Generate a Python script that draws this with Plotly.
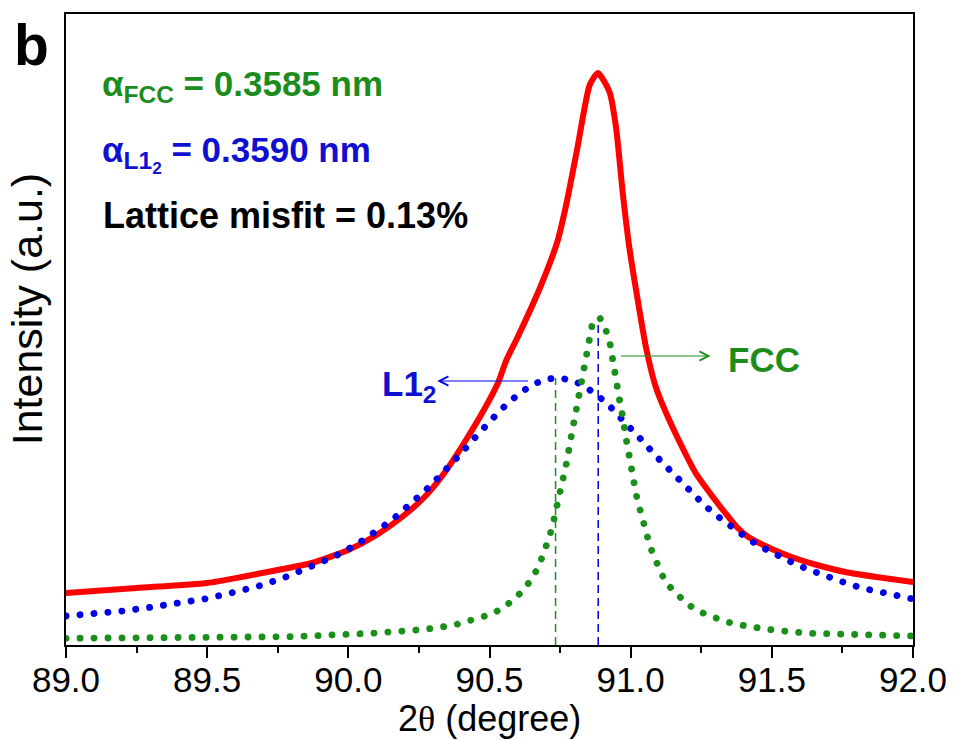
import plotly.graph_objects as go

# ---------------- data ----------------
# measured pattern (red solid)
red_2theta = [89.00, 89.25, 89.50, 89.64, 89.75, 89.87, 90.00, 90.10, 90.19, 90.27,
              90.34, 90.41, 90.48, 90.53, 90.56, 90.60, 90.68, 90.74, 90.77, 90.81,
              90.855, 90.884, 90.925, 90.948, 90.972, 90.995, 91.025, 91.054, 91.089,
              91.148, 91.23, 91.294, 91.335, 91.376, 91.417, 91.50, 91.58, 91.66,
              91.76, 91.87, 92.00]
red_int = [52, 57, 62, 69, 75, 82, 95, 110, 128, 148,
           172, 202, 235, 262, 285, 308, 358, 403, 438, 495,
           560, 572, 553, 518, 452, 398, 345, 298, 258,
           218, 172, 147, 132, 118, 108, 96, 87, 80,
           73, 68, 63]

# L1_2 fitted peak (blue dotted)
l12_2theta = [89.00, 89.10, 89.20, 89.29, 89.39, 89.49, 89.58, 89.68, 89.77, 89.86,
              89.95, 90.036, 90.079, 90.116, 90.155, 90.192, 90.231, 90.266, 90.301,
              90.336, 90.37, 90.403, 90.435, 90.468, 90.50, 90.536, 90.571, 90.611,
              90.655, 90.702, 90.749, 90.798, 90.84, 90.878, 90.916, 90.948, 90.984,
              91.019, 91.052, 91.086, 91.12, 91.152, 91.186, 91.221, 91.257, 91.294,
              91.333, 91.374, 91.415, 91.456, 91.50, 91.544, 91.59, 91.634, 91.681,
              91.729, 91.775, 91.823, 91.87, 91.919, 91.968, 92.00]
l12_int = [29, 31, 34, 37.3, 41.7, 46, 51.7, 58.7, 67, 77,
           88.3, 101.7, 109.3, 117.3, 125, 134, 143, 152.7, 162.3,
           172.3, 182.7, 192.7, 203.3, 214, 224, 234, 243.3, 252.7,
           260.7, 266, 267, 264.3, 258.3, 250.3, 242, 232, 222,
           211, 201, 190, 180, 170, 160, 150.7, 141, 131.7,
           123, 114.3, 106.3, 99, 92.3, 86, 80, 75, 69.7,
           65, 60.7, 56.7, 53.7, 50, 47.7, 46]

# FCC fitted peak (green dotted)
fcc_2theta = [89.00, 89.40, 89.80, 90.08, 90.175, 90.274, 90.372, 90.466, 90.509,
              90.55, 90.587, 90.62, 90.65, 90.675, 90.694, 90.709, 90.723, 90.734,
              90.747, 90.759, 90.768, 90.776, 90.784, 90.793, 90.801, 90.809, 90.817,
              90.825, 90.834, 90.843, 90.852, 90.864, 90.89, 90.913, 90.927, 90.934,
              90.944, 90.951, 90.96, 90.969, 90.979, 90.984, 90.993, 91.001, 91.009,
              91.019, 91.031, 91.042, 91.054, 91.069, 91.087, 91.107, 91.124, 91.162,
              91.197, 91.241, 91.289, 91.336, 91.385, 91.431, 91.482, 91.53, 91.579,
              91.628, 91.727, 91.825, 91.968, 92.00]
fcc_int = [6.7, 7, 8.3, 11.7, 13, 15.7, 19.7, 26.3, 31,
           37.7, 45.7, 55, 66.3, 79, 92.3, 105.7, 119, 132.3,
           145.7, 159, 173, 186.3, 200.3, 213.7, 227.7, 241, 255,
           268.3, 281.7, 295, 309, 320.7, 327.7, 314.3, 301, 287.7,
           273.3, 260, 246, 232.7, 219.3, 205.7, 192.3, 178.3, 165,
           151, 137.7, 124.3, 111, 98.3, 85.7, 73.3, 62.3, 51.7,
           41.7, 33.7, 28.3, 23.3, 20.3, 17.7, 15.7, 14.3, 13,
           11.7, 11, 10.3, 9.3, 9]

# peak markers (dashed verticals): position, height
l12_peak = [90.734, 267]
fcc_peak = [90.885, 322]

x_ticks = [89.0, 89.5, 90.0, 90.5, 91.0, 91.5, 92.0]
x_tick_labels = ["89.0", "89.5", "90.0", "90.5", "91.0", "91.5", "92.0"]
x_minor_ticks = [89.25, 89.75, 90.25, 90.75, 91.25, 91.75]

# ---------------- styling ----------------
RED = "#ff0000"
BLUE_DOT = "#0000e6"
GREEN_DOT = "#1a8f1a"
BLUE_TXT = "#1010d0"
GREEN_TXT = "#1c8c1c"
FONT = "Arial, Liberation Sans, sans-serif"

W, H = 959, 740
L, R, T, B = 66, 40, 14, 95
PW, PH = W - L - R, H - T - B


def px(xp):
    return (xp - L) / PW


def py(yp):
    return (H - B - yp) / PH


fig = go.Figure()
fig.add_trace(go.Scatter(x=red_2theta, y=red_int, mode="lines",
                         line=dict(color=RED, width=6, shape="spline", smoothing=0.6),
                         hoverinfo="skip"))
fig.add_trace(go.Scatter(x=l12_2theta, y=l12_int, mode="lines",
                         line=dict(color=BLUE_DOT, width=6.8, dash="0.1px,13.9px"),
                         hoverinfo="skip"))
fig.add_trace(go.Scatter(x=fcc_2theta, y=fcc_int, mode="lines",
                         line=dict(color=GREEN_DOT, width=6.8, dash="0.1px,13.9px"),
                         hoverinfo="skip"))

fig.add_shape(type="line", x0=l12_peak[0], x1=l12_peak[0], y0=0, y1=l12_peak[1],
              xref="x", yref="y", layer="below",
              line=dict(color=GREEN_DOT, width=1.5, dash="8px,5px"))
fig.add_shape(type="line", x0=fcc_peak[0], x1=fcc_peak[0], y0=0, y1=fcc_peak[1],
              xref="x", yref="y", layer="below",
              line=dict(color=BLUE_DOT, width=1.5, dash="8px,5px"))

ann = []
# panel letter
ann.append(dict(text="<b>b</b>", x=px(12), y=py(45), xref="paper", yref="paper",
                xanchor="left", yanchor="middle", showarrow=False,
                font=dict(family=FONT, size=57, color="black")))
ann.append(dict(text="<b>α<sub>FCC</sub> = 0.3585 nm</b>", x=px(100), y=py(86),
                xref="paper", yref="paper", xanchor="left", yanchor="middle",
                showarrow=False, font=dict(family=FONT, size=35, color=GREEN_TXT)))
ann.append(dict(text="<b>α<sub>L1<sub>2</sub></sub> = 0.3590 nm</b>", x=px(100), y=py(154),
                xref="paper", yref="paper", xanchor="left", yanchor="middle",
                showarrow=False, font=dict(family=FONT, size=35, color=BLUE_TXT)))
ann.append(dict(text="<b>Lattice misfit = 0.13%</b>", x=px(101), y=py(215),
                xref="paper", yref="paper", xanchor="left", yanchor="middle",
                showarrow=False, font=dict(family=FONT, size=36, color="black")))
# phase labels
ann.append(dict(text="<b>L1<sub>2</sub></b>", x=px(442), y=py(386),
                xref="paper", yref="paper", xanchor="right", yanchor="middle",
                showarrow=False, font=dict(family=FONT, size=35, color=BLUE_TXT)))
ann.append(dict(text="<b>FCC</b>", x=px(731), y=py(359),
                xref="paper", yref="paper", xanchor="left", yanchor="middle",
                showarrow=False, font=dict(family=FONT, size=35, color=GREEN_TXT)))
# arrows
ann.append(dict(text="", x=90.315, y=264, ax=90.642, ay=264, xref="x", yref="y",
                axref="x", ayref="y", showarrow=True, arrowhead=5, arrowsize=1.5,
                arrowwidth=1.2, arrowcolor=BLUE_DOT))
ann.append(dict(text="", x=91.283, y=289, ax=90.96, ay=289, xref="x", yref="y",
                axref="x", ayref="y", showarrow=True, arrowhead=5, arrowsize=1.5,
                arrowwidth=1.2, arrowcolor=GREEN_DOT))
# y title
ann.append(dict(text="Intensity (a.u.)", x=px(27), y=py(309), xref="paper", yref="paper",
                xanchor="center", yanchor="middle", textangle=-90, showarrow=False,
                font=dict(family=FONT, size=43, color="black")))
# x title
ann.append(dict(text="2<span style='font-family:Liberation Serif'>θ</span> (degree)",
                x=px(492), y=py(718), xref="paper", yref="paper",
                xanchor="center", yanchor="middle", showarrow=False,
                font=dict(family=FONT, size=36, color="black")))

fig.update_layout(
    width=W, height=H,
    margin=dict(l=L, r=R, t=T, b=B, pad=0),
    paper_bgcolor="white", plot_bgcolor="white",
    showlegend=False,
    annotations=ann,
    font=dict(family=FONT, color="black"),
)
fig.update_xaxes(range=[89, 92], tickvals=x_ticks, ticktext=x_tick_labels,
                 ticks="outside", ticklen=11, tickwidth=2, tickcolor="black",
                 ticklabelstandoff=-8,
                 tickfont=dict(family=FONT, size=35, color="black"),
                 minor=dict(tickvals=x_minor_ticks,
                            ticks="outside", ticklen=6, tickwidth=2, tickcolor="black"),
                 showline=True, linewidth=2, linecolor="black", mirror=True,
                 showgrid=False, zeroline=False)
fig.update_yaxes(range=[0, PH], showticklabels=False, ticks="",
                 showline=True, linewidth=2, linecolor="black", mirror=True,
                 showgrid=False, zeroline=False)

post = ("var s=document.createElement('style');"
        "s.textContent='.scatterlayer path.js-line{stroke-linecap:round !important;}';"
        "document.head.appendChild(s);")
fig.write_html("out.html", post_script=post, config={"displayModeBar": False})
